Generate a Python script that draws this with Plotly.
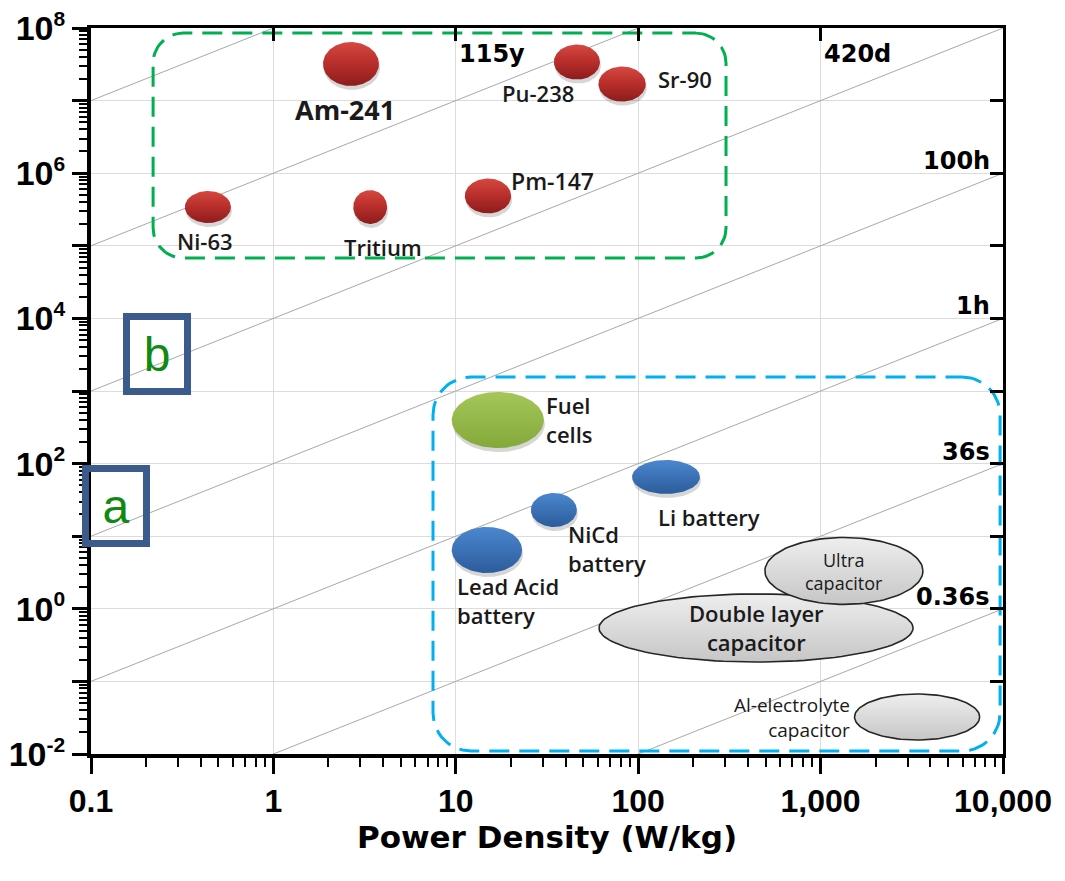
import numpy as np
import plotly.graph_objects as go

# ---------------- data ----------------
# Radioisotope power sources (group b): power density range (W/kg), energy density range (Wh/kg)
iso_names = ["Am-241", "Pu-238", "Sr-90", "Pm-147", "Tritium", "Ni-63"]
iso_p_lo = [1.87, 34.5, 60.5, 11.2, 2.74, 0.327]
iso_p_hi = [3.79, 61.7, 110.0, 20.1, 4.20, 0.585]
iso_e_lo = [1.59e7, 1.95e7, 9.7e6, 2.79e5, 2.0e5, 2.06e5]
iso_e_hi = [6.41e7, 5.93e7, 2.95e7, 8.45e5, 5.86e5, 5.68e5]

# Electrochemical storage (group a)
stor_names = ["Fuel<br>cells", "Lead Acid<br>battery", "NiCd<br>battery", "Li battery",
              "Double layer<br>capacitor", "Ultra<br>capacitor", "Al-electrolyte<br>capacitor"]
stor_kind = ["fuel", "battery", "battery", "battery", "capacitor", "capacitor", "capacitor"]
stor_p_lo = [9.5, 9.5, 25.8, 92.5, 61.0, 495.0, 1535.0]
stor_p_hi = [30.4, 23.1, 46.1, 218.0, 3214.0, 3640.0, 7450.0]
stor_e_lo = [164.0, 3.11, 13.4, 38.2, 0.185, 1.15, 0.0156]
stor_e_hi = [970.0, 13.4, 39.4, 112.0, 1.6, 9.6, 0.0671]

# Constant discharge-time lines (hours) and their labels
time_hours = [1e8, 1e6, 1e4, 1e2, 1.0, 1e-2, 1e-4]
time_labels = ["", "115y", "420d", "100h", "1h", "36s", "0.36s"]

# Group envelopes
group_names = ["b", "a"]
group_p_lo = [0.219, 7.5]
group_p_hi = [303.0, 9640.0]
group_e_lo = [6.8e4, 0.011]
group_e_hi = [8.5e7, 1560.0]

# Axis ticks
x_tickvals = [0.1, 1, 10, 100, 1000, 10000]
x_ticktext = ["0.1", "1", "10", "100", "1,000", "10,000"]
y_exponents = list(range(-2, 9))

# ---------------- layout constants ----------------
# (page body has an 8px default margin, so the figure is offset accordingly)
W, H = 1049, 865
ML, MR, MT, MB = 83, 54, 20, 119
XR = [-1, 4]
YR = [-2, 8]
X_DEC = (W - ML - MR) / (XR[1] - XR[0])
Y_DEC = (H - MT - MB) / (YR[1] - YR[0])

theta = np.linspace(0, 2 * np.pi, 121)


def ellipse(plo, phi, elo, ehi, dx_px=0.0, dy_px=0.0):
    lx0, lx1 = np.log10(plo), np.log10(phi)
    ly0, ly1 = np.log10(elo), np.log10(ehi)
    cx, cy = (lx0 + lx1) / 2 + dx_px / X_DEC, (ly0 + ly1) / 2 - dy_px / Y_DEC
    rx, ry = (lx1 - lx0) / 2, (ly1 - ly0) / 2
    return 10 ** (cx + rx * np.cos(theta)), 10 ** (cy + ry * np.sin(theta))


def rounded_rect(plo, phi, elo, ehi, r_px):
    x0, x1 = np.log10(plo), np.log10(phi)
    y0, y1 = np.log10(elo), np.log10(ehi)
    rx, ry = r_px / X_DEC, r_px / Y_DEC
    a = np.linspace(0, np.pi / 2, 15)
    xs, ys = [], []
    xs += list(x1 - rx + rx * np.sin(a)); ys += list(y1 - ry + ry * np.cos(a))
    xs += list(x1 - rx + rx * np.cos(a)); ys += list(y0 + ry - ry * np.sin(a))
    xs += list(x0 + rx - rx * np.sin(a)); ys += list(y0 + ry - ry * np.cos(a))
    xs += list(x0 + rx - rx * np.cos(a)); ys += list(y1 - ry + ry * np.sin(a))
    xs.append(xs[0]); ys.append(ys[0])
    return 10 ** np.array(xs), 10 ** np.array(ys)


fig = go.Figure()

# constant-time lines
for t in time_hours:
    px = np.array([10 ** XR[0], 10 ** XR[1]])
    fig.add_trace(go.Scatter(x=px, y=px * t, mode="lines",
                             line=dict(color="#a8a8a8", width=1),
                             hoverinfo="skip", showlegend=False))

styles = {
    "iso": dict(grad=[[0, "#8c1c1c"], [0.55, "#bb302c"], [1, "#d64841"]], line=None, shadow=True),
    "fuel": dict(grad=[[0, "#84a83a"], [1, "#a5c75a"]], line=None, shadow=True),
    "battery": dict(grad=[[0, "#2c5c9c"], [1, "#4b87cf"]], line=None, shadow=True),
    "capacitor": dict(grad=[[0, "#c6c6c6"], [1, "#eeeeee"]], line="#262626", shadow=False),
}


def add_blob(plo, phi, elo, ehi, kind):
    st = styles[kind]
    if st["shadow"]:
        sx, sy = ellipse(plo, phi, elo, ehi, dx_px=1, dy_px=4)
        fig.add_trace(go.Scatter(x=sx, y=sy, mode="lines", fill="toself",
                                 fillcolor="rgba(0,0,0,0.16)", line=dict(width=0),
                                 hoverinfo="skip", showlegend=False))
    ex, ey = ellipse(plo, phi, elo, ehi)
    fig.add_trace(go.Scatter(
        x=ex, y=ey, mode="lines", fill="toself",
        fillgradient=dict(type="vertical", colorscale=st["grad"]),
        line=dict(width=1.6 if st["line"] else 0, color=st["line"] or "rgba(0,0,0,0)"),
        hoverinfo="skip", showlegend=False))


for i in range(len(iso_names)):
    add_blob(iso_p_lo[i], iso_p_hi[i], iso_e_lo[i], iso_e_hi[i], "iso")
for i in range(len(stor_names)):
    add_blob(stor_p_lo[i], stor_p_hi[i], stor_e_lo[i], stor_e_hi[i], stor_kind[i])

# group envelopes (dashed rounded rectangles) on overlay axes
group_colors = ["#00B050", "#00B0F0"]
group_radius = [30, 38]
for i in range(len(group_names)):
    rx_, ry_ = rounded_rect(group_p_lo[i], group_p_hi[i], group_e_lo[i], group_e_hi[i], group_radius[i])
    fig.add_trace(go.Scatter(x=rx_, y=ry_, mode="lines", xaxis="x2", yaxis="y2",
                             line=dict(color=group_colors[i], width=3, dash="20px,10px"),
                             hoverinfo="skip", showlegend=False))

# ---------------- annotations ----------------
LABEL_FONT = "Open Sans, Lato, sans-serif"
annotations = []


def center_log(plo, phi, elo, ehi):
    return (np.log10(plo) + np.log10(phi)) / 2, (np.log10(elo) + np.log10(ehi)) / 2


iso_label_pos = [  # xanchor, xshift, yshift, size, weight
    ("center", -6, -45, 27, 700),
    ("center", -39, -31, 22, 600),
    ("center", 63, 5, 22, 600),
    ("center", 65, 15, 23, 600),
    ("center", 13, -40, 22, 600),
    ("center", -3, -34, 22, 600),
]
for i, nm in enumerate(iso_names):
    cx, cy = center_log(iso_p_lo[i], iso_p_hi[i], iso_e_lo[i], iso_e_hi[i])
    xa, xs, ys, sz, wt = iso_label_pos[i]
    annotations.append(dict(x=cx, y=cy, xref="x", yref="y", text=nm, showarrow=False,
                            xanchor=xa, yanchor="middle", xshift=xs, yshift=ys,
                            font=dict(family=LABEL_FONT, size=sz, color="#1a1a1a", weight=wt)))

stor_label_pos = [  # xanchor, align, xshift, yshift, size, weight
    ("left", "left", 46, 0, 22, 600),
    ("left", "left", -32, -50, 22, 600),
    ("left", "left", 12, -39, 22, 600),
    ("center", "center", 43, -40, 22, 600),
    ("center", "center", 0, 0, 22, 600),
    ("center", "center", 0, -1, 18, 500),
    ("right", "right", -65, -1, 19, 500),
]
for i, nm in enumerate(stor_names):
    cx, cy = center_log(stor_p_lo[i], stor_p_hi[i], stor_e_lo[i], stor_e_hi[i])
    xa, al, xs, ys, sz, wt = stor_label_pos[i]
    annotations.append(dict(x=cx, y=cy, xref="x", yref="y", text=nm, showarrow=False,
                            xanchor=xa, yanchor="middle", align=al, xshift=xs, yshift=ys,
                            font=dict(family=LABEL_FONT, size=sz, color="#1a1a1a", weight=wt)))

# time-constant labels
TIME_FONT = dict(family="DejaVu Sans, Arial, sans-serif", size=24, color="black", weight="bold")
for t, lab in zip(time_hours, time_labels):
    if not lab:
        continue
    e_right = np.log10(10 ** XR[1] * t)
    if e_right >= YR[1] - 1e-9:
        x_top = YR[1] - np.log10(t) - 1
        annotations.append(dict(x=x_top, y=YR[1], xref="x", yref="y", text=lab, showarrow=False,
                                xanchor="left", yanchor="top", xshift=1, yshift=-10, font=TIME_FONT))
    else:
        annotations.append(dict(x=XR[1], y=e_right, xref="x", yref="y", text=lab, showarrow=False,
                                xanchor="right", yanchor="bottom", xshift=-11, yshift=-4, font=TIME_FONT))

# group letters in boxes
box_pos = {"b": (0.0724, 0.551), "a": (0.0274, 0.3416)}
for g in group_names:
    bx, by = box_pos[g]
    annotations.append(dict(x=bx, y=by, xref="paper", yref="paper", text=g, showarrow=False,
                            xanchor="center", yanchor="middle", width=54, height=68,
                            borderwidth=7, borderpad=0, bordercolor="#3b5b8c",
                            font=dict(family="Liberation Sans, Arial, sans-serif", size=48, color="#118a11")))

# ---------------- axes ----------------
TICK_FONT = dict(family="Liberation Sans, Arial, sans-serif", size=32, color="black", weight="bold")
x_minor = [m * 10 ** k for k in range(XR[0], XR[1]) for m in range(2, 10)]
y_minor = [m * 10 ** k for k in range(YR[0], YR[1]) for m in range(2, 10)]
y_tickvals = [10.0 ** k for k in y_exponents]
y_ticktext = [("10<sup><span style='font-size:21px'>%d</span></sup>" % k) if k % 2 == 0 else ""
              for k in y_exponents]

fig.update_layout(
    width=W, height=H,
    margin=dict(l=ML, r=MR, t=MT, b=MB, pad=0, autoexpand=False),
    paper_bgcolor="white", plot_bgcolor="white",
    showlegend=False,
    xaxis=dict(type="log", range=XR, tickmode="array", tickvals=x_tickvals, ticktext=x_ticktext,
               ticks="outside", ticklen=16, tickwidth=3, tickcolor="black", automargin=False,
               ticklabeloverflow="allow",
               minor=dict(tickmode="array", tickvals=x_minor, ticks="outside", ticklen=9,
                          tickwidth=2, tickcolor="black", showgrid=False),
               showline=True, linewidth=4, linecolor="black", mirror=False,
               showgrid=True, gridcolor="#dcdcdc", gridwidth=1, zeroline=False,
               tickfont=TICK_FONT,
               title=dict(text="Power Density (W/kg)", standoff=8,
                          font=dict(family="DejaVu Sans, Arial, sans-serif", size=31,
                                    color="black", weight="bold"))),
    yaxis=dict(type="log", range=YR, tickmode="array", tickvals=y_tickvals, ticktext=y_ticktext,
               ticks="outside", ticklen=15, tickwidth=3, tickcolor="black", automargin=False,
               ticklabeloverflow="allow",
               minor=dict(tickmode="array", tickvals=y_minor, ticks="outside", ticklen=8,
                          tickwidth=2, tickcolor="black", showgrid=False),
               showline=True, linewidth=4, linecolor="black", mirror=False,
               showgrid=True, gridcolor="#dcdcdc", gridwidth=1, zeroline=False,
               tickfont=dict(family="Liberation Sans, Arial, sans-serif", size=34,
                             color="black", weight="bold")),
    xaxis2=dict(type="log", range=XR, overlaying="x", side="top", anchor="y2", automargin=False,
                tickmode="array", tickvals=x_tickvals[1:-1], ticks="inside", ticklen=13,
                tickwidth=3, tickcolor="black", showticklabels=False,
                showline=True, linewidth=3, linecolor="black", showgrid=False, zeroline=False),
    yaxis2=dict(type="log", range=YR, overlaying="y", side="right", anchor="x2", automargin=False,
                tickmode="array", tickvals=y_tickvals[1:-1], ticks="inside", ticklen=13,
                tickwidth=3, tickcolor="black", showticklabels=False,
                showline=True, linewidth=3, linecolor="black", showgrid=False, zeroline=False),
    annotations=annotations,
)

fig.write_html("out.html")
